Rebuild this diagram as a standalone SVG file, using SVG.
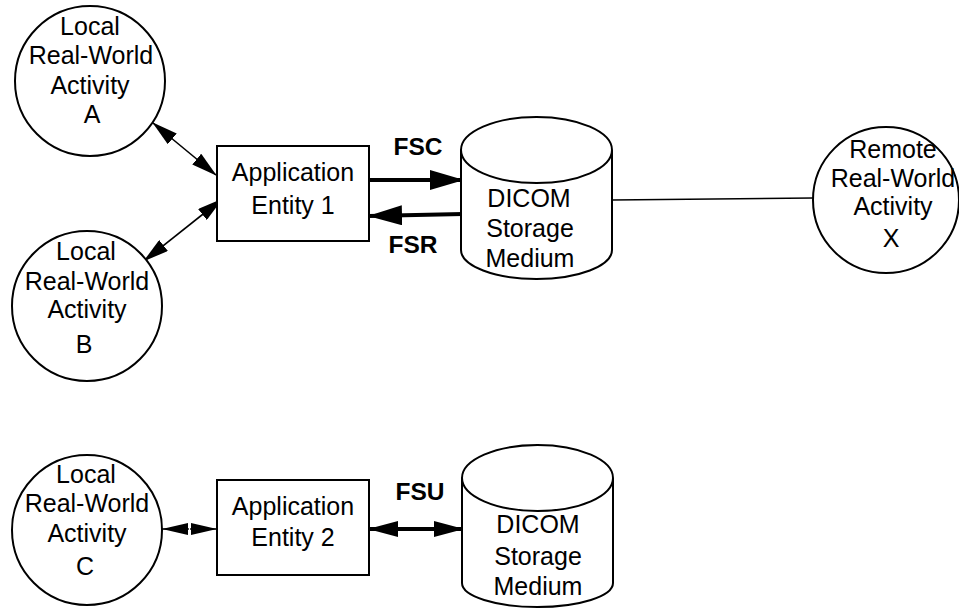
<svg xmlns="http://www.w3.org/2000/svg" width="959" height="608" viewBox="0 0 959 608">
<style>
.shape{fill:#fff;stroke:#000;stroke-width:2}
.lbl{font-family:"Liberation Sans",Arial,sans-serif;font-size:25px;fill:#000;text-anchor:middle}
.bold{font-family:"Liberation Sans",Arial,sans-serif;font-size:24.5px;font-weight:bold;fill:#000;text-anchor:middle}
.thin{stroke:#000;stroke-width:1.6;fill:none}
.thick{stroke:#000;stroke-width:4;fill:none}
.line{stroke:#000;stroke-width:1.5;fill:none}
</style>
<defs>
<marker id="ah" markerUnits="userSpaceOnUse" markerWidth="26" markerHeight="14" viewBox="0 0 26 14" refX="25" refY="7" orient="auto-start-reverse">
<path d="M0,0 L26,7 L0,14 z" fill="#000"/>
</marker>
<marker id="ahb" markerUnits="userSpaceOnUse" markerWidth="34" markerHeight="20" viewBox="0 0 34 20" refX="33" refY="10" orient="auto-start-reverse">
<path d="M0,0 L34,10 L0,20 z" fill="#000"/>
</marker>
<marker id="ahu" markerUnits="userSpaceOnUse" markerWidth="30" markerHeight="16" viewBox="0 0 30 16" refX="29" refY="8" orient="auto-start-reverse">
<path d="M0,0 L30,8 L0,16 z" fill="#000"/>
</marker>
</defs>

<g id="connectors">
<line class="thin" x1="153" y1="123" x2="216" y2="175" marker-start="url(#ah)" marker-end="url(#ah)"/>
<line class="thin" x1="144" y1="261" x2="222" y2="199" marker-start="url(#ah)" marker-end="url(#ah)"/>
<line class="thick" x1="369" y1="180" x2="463" y2="180" marker-end="url(#ahb)"/>
<line class="thick" x1="463" y1="214" x2="369" y2="216" marker-end="url(#ahb)"/>
<line class="line" x1="612" y1="200" x2="813" y2="198"/>
<polygon points="162,529 188,523 188,535" fill="#000"/>
<polygon points="217,529 191,523 191,535" fill="#000"/>
<line class="thin" x1="162" y1="529" x2="217" y2="529"/>
<line stroke="#fff" stroke-width="1.2" x1="189.5" y1="523" x2="189.5" y2="535"/>
<line class="thick" x1="369" y1="529" x2="463" y2="529" marker-start="url(#ahu)" marker-end="url(#ahu)"/>
<text class="bold" x="418" y="155">FSC</text>
<text class="bold" x="413" y="253">FSR</text>
<text class="bold" x="420" y="500">FSU</text>
</g>

<g id="activityA">
<circle class="shape" cx="90" cy="81" r="75"/>
<text class="lbl" x="90" y="35">Local</text>
<text class="lbl" x="91" y="64">Real-World</text>
<text class="lbl" x="90" y="94">Activity</text>
<text class="lbl" x="92" y="123">A</text>
</g>

<g id="activityB">
<circle class="shape" cx="87" cy="306" r="75"/>
<text class="lbl" x="86" y="260">Local</text>
<text class="lbl" x="87" y="290">Real-World</text>
<text class="lbl" x="87" y="318">Activity</text>
<text class="lbl" x="84" y="353">B</text>
</g>

<g id="ae1">
<rect class="shape" x="217" y="146" width="152" height="95"/>
<text class="lbl" x="293" y="181">Application</text>
<text class="lbl" x="293" y="214">Entity 1</text>
</g>

<g id="storage1">
<path class="shape" d="M461,150 L461,250 A75.5,29 0 0 0 612,250 L612,150"/>
<ellipse class="shape" cx="536.5" cy="150" rx="75.5" ry="33"/>
<text class="lbl" x="529" y="207">DICOM</text>
<text class="lbl" x="530" y="237">Storage</text>
<text class="lbl" x="530" y="267">Medium</text>
</g>

<g id="activityX">
<circle class="shape" cx="886" cy="200" r="73"/>
<text class="lbl" x="893" y="158">Remote</text>
<text class="lbl" x="893" y="187">Real-World</text>
<text class="lbl" x="893" y="215">Activity</text>
<text class="lbl" x="891" y="247">X</text>
</g>

<g id="activityC">
<circle class="shape" cx="87" cy="530" r="75"/>
<text class="lbl" x="86" y="483">Local</text>
<text class="lbl" x="87" y="512">Real-World</text>
<text class="lbl" x="87" y="542">Activity</text>
<text class="lbl" x="85" y="575">C</text>
</g>

<g id="ae2">
<rect class="shape" x="217" y="480" width="152" height="95"/>
<text class="lbl" x="293" y="515">Application</text>
<text class="lbl" x="293" y="546">Entity 2</text>
</g>

<g id="storage2">
<path class="shape" d="M462,478 L462,583 A75.5,24 0 0 0 613,583 L613,478"/>
<ellipse class="shape" cx="537.5" cy="478" rx="75.5" ry="33"/>
<text class="lbl" x="538" y="533">DICOM</text>
<text class="lbl" x="538" y="565">Storage</text>
<text class="lbl" x="538" y="595">Medium</text>
</g>
</svg>
